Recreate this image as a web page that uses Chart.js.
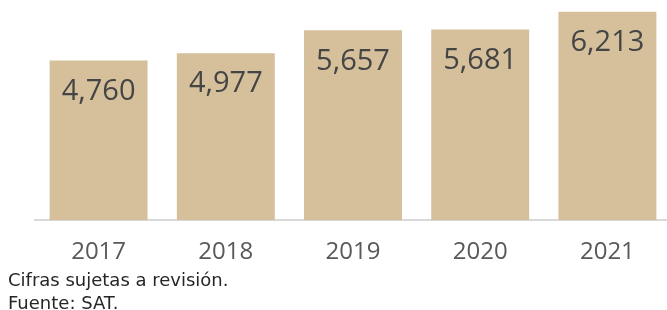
<!DOCTYPE html>
<html>
<head>
<meta charset="utf-8">
<script src="https://cdn.jsdelivr.net/npm/chart.js@4/dist/chart.umd.min.js"></script>
<style>
    html, body { margin: 0; padding: 0; background: #fff; overflow: hidden; }
    .wrap { position: relative; width: 671px; height: 310px; }
    .notes { position: absolute; left: 8px; top: 268px; font-family: 'DejaVu Sans', sans-serif; font-size: 18px; line-height: 23px; color: #262626; }
</style>
</head>
<body>
<div class="wrap">
    <canvas id="chart" width="671" height="310"></canvas>
    <div class="notes">Cifras sujetas a revisión.<br>Fuente: SAT.</div>
</div>
<script>
const years = ['2017', '2018', '2019', '2020', '2021'];
const values = [4760, 4977, 5657, 5681, 6213];

const FONT = "'Open Sans', sans-serif";

// value label near the top of each bar
const insideLabels = {
    id: 'insideLabels',
    afterDatasetsDraw(chart) {
        const ctx = chart.ctx;
        const meta = chart.getDatasetMeta(0);
        ctx.save();
        ctx.font = '29px ' + FONT;
        ctx.fillStyle = '#454545';
        ctx.textAlign = 'center';
        ctx.textBaseline = 'middle';
        meta.data.forEach((bar, i) => {
            ctx.fillText(values[i].toLocaleString('en-US'), bar.x, bar.y + 31);
        });
        ctx.restore();
    }
};

new Chart(document.getElementById('chart'), {
    type: 'bar',
    data: {
        labels: years,
        datasets: [{
            data: values,
            backgroundColor: '#d5c09b',
            barPercentage: 0.77,
            categoryPercentage: 1
        }]
    },
    options: {
        responsive: false,
        animation: false,
        layout: { padding: { left: 35, right: 0, top: 2, bottom: 25 } },
        plugins: { legend: { display: false }, tooltip: { enabled: false } },
        scales: {
            x: {
                grid: { display: false, drawTicks: false },
                border: { display: true, color: '#d9d9d9', width: 2 },
                ticks: { color: '#595959', font: { family: FONT, size: 24 }, padding: 18 }
            },
            y: {
                display: false,
                min: 0,
                max: 6500
            }
        }
    },
    plugins: [insideLabels]
});
</script>
</body>
</html>
